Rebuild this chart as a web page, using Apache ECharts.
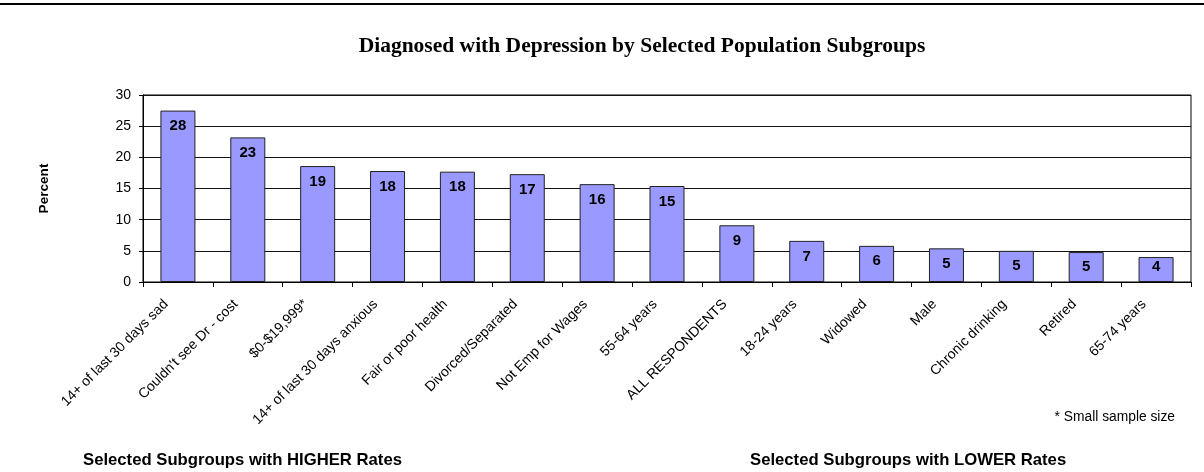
<!DOCTYPE html>
<html>
<head>
<meta charset="utf-8">
<title>Diagnosed with Depression by Selected Population Subgroups</title>
<script src="https://cdn.jsdelivr.net/npm/echarts@6/dist/echarts.min.js"></script>
<style>
  html, body { margin: 0; padding: 0; background: #fff; }
  #chart { width: 1204px; height: 472px; }
</style>
</head>
<body>
<div id="chart"></div>
<script>
// Subgroups, ordered from highest to lowest rate
const categories = [
  "14+ of last 30 days sad",
  "Couldn't see Dr - cost",
  "$0-$19,999*",
  "14+ of last 30 days anxious",
  "Fair or poor health",
  "Divorced/Separated",
  "Not Emp for Wages",
  "55-64 years",
  "ALL RESPONDENTS",
  "18-24 years",
  "Widowed",
  "Male",
  "Chronic drinking",
  "Retired",
  "65-74 years"
];

// Percent diagnosed with depression
const percentValues = [27.5, 23.2, 18.6, 17.8, 17.7, 17.3, 15.7, 15.4, 9.1, 6.6, 5.8, 5.4, 5.0, 4.8, 4.0];

// Value axis ticks
const yMin = 0;
const yMax = 30;
const yStep = 5;

const titleText = "Diagnosed with Depression by Selected Population Subgroups";
const higherText = "Selected Subgroups with HIGHER Rates";
const lowerText = "Selected Subgroups with LOWER Rates";
const noteText = "* Small sample size";

const SANS = "'Liberation Sans', Arial, sans-serif";
const SERIF = "'Liberation Serif', 'Times New Roman', serif";

const chart = echarts.init(document.getElementById('chart'), null, { renderer: 'canvas' });

// Short bars keep their label lifted off the baseline instead of hanging from the top
const barData = percentValues.map(v => v < 4.9
  ? { value: v, label: { position: 'insideBottom', distance: 8 } }
  : { value: v });

chart.setOption({
  animation: false,
  backgroundColor: '#ffffff',
  grid: {
    left: 143, right: 13, top: 95, bottom: 190,
    show: true, borderColor: '#000', borderWidth: 1, backgroundColor: 'transparent'
  },
  xAxis: {
    type: 'category',
    data: categories,
    axisLine: { lineStyle: { color: '#000', width: 1 } },
    axisTick: { show: true, length: 5, lineStyle: { color: '#000' } },
    axisLabel: {
      rotate: 45, interval: 0, margin: 8,
      padding: [0, 17, 0, 0],
      color: '#000', fontFamily: SANS, fontSize: 14
    },
    splitLine: { show: false }
  },
  yAxis: {
    type: 'value',
    min: yMin, max: yMax, interval: yStep,
    name: 'Percent',
    nameLocation: 'middle',
    nameGap: 92,
    nameTextStyle: { color: '#000', fontFamily: SANS, fontSize: 13.6, fontWeight: 'bold' },
    axisLine: { show: true, lineStyle: { color: '#000', width: 1 } },
    axisTick: { show: true, length: 4, lineStyle: { color: '#000' } },
    axisLabel: { margin: 12, color: '#000', fontFamily: SANS, fontSize: 14 },
    splitLine: { show: true, lineStyle: { color: '#111', width: 1 } }
  },
  series: [{
    type: 'bar',
    data: barData,
    barWidth: 35,
    itemStyle: { color: '#9999ff', borderColor: '#222', borderWidth: 1 },
    label: {
      show: true,
      position: 'insideTop',
      distance: 8,
      color: '#000',
      fontFamily: SANS,
      fontSize: 15,
      fontWeight: 'bold',
      formatter: p => String(Math.round(p.value))
    }
  }],
  graphic: [
    {
      type: 'line',
      shape: { x1: 0, y1: 4, x2: 1204, y2: 4 },
      style: { stroke: '#000', lineWidth: 2 }
    },
    {
      type: 'text', x: 642, y: 46,
      style: {
        text: titleText, fill: '#000',
        font: 'bold 21.5px ' + SERIF,
        textAlign: 'center', textVerticalAlign: 'middle'
      }
    },
    {
      type: 'text', x: 1175, y: 417,
      style: {
        text: noteText, fill: '#000',
        font: '13.8px ' + SANS,
        textAlign: 'right', textVerticalAlign: 'middle'
      }
    },
    {
      type: 'text', x: 83, y: 460,
      style: {
        text: higherText, fill: '#000',
        font: 'bold 16.7px ' + SANS,
        textAlign: 'left', textVerticalAlign: 'middle'
      }
    },
    {
      type: 'text', x: 750, y: 460,
      style: {
        text: lowerText, fill: '#000',
        font: 'bold 16.7px ' + SANS,
        textAlign: 'left', textVerticalAlign: 'middle'
      }
    }
  ]
});
</script>
</body>
</html>
